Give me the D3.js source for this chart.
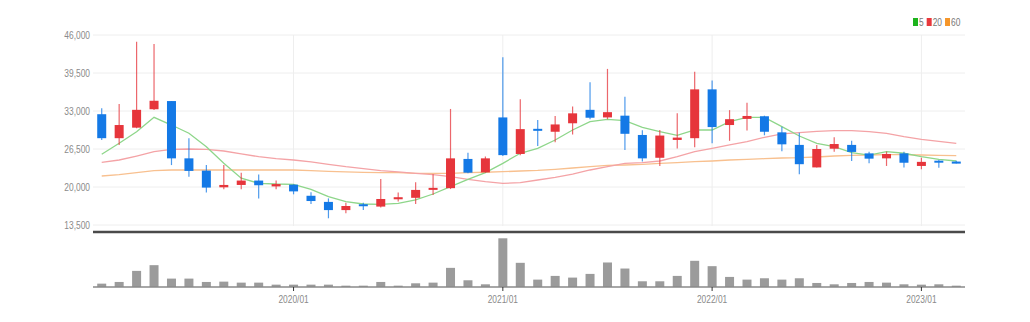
<!DOCTYPE html>
<html><head><meta charset="utf-8">
<script src="https://cdn.jsdelivr.net/npm/d3@7/dist/d3.min.js"></script>
<style>
html,body{margin:0;padding:0;background:#fff;}
svg text{font-family:"Liberation Sans",Arial,sans-serif;}
</style></head>
<body><svg id="c" width="1030" height="322"></svg>
<script>
const months = ["2019/02","2019/03","2019/04","2019/05","2019/06","2019/07","2019/08","2019/09","2019/10","2019/11","2019/12",
"2020/01","2020/02","2020/03","2020/04","2020/05","2020/06","2020/07","2020/08","2020/09","2020/10","2020/11","2020/12",
"2021/01","2021/02","2021/03","2021/04","2021/05","2021/06","2021/07","2021/08","2021/09","2021/10","2021/11","2021/12",
"2022/01","2022/02","2022/03","2022/04","2022/05","2022/06","2022/07","2022/08","2022/09","2022/10","2022/11","2022/12",
"2023/01","2023/02","2023/03"];
const opens  = [32450,28350,30150,33300,34700,24900,22800,19950,20350,21100,20100,20400,18500,17450,16050,17050,16650,17900,18150,19550,19800,24800,22500,31900,25650,29950,29450,30900,33200,31900,32200,28900,25000,28050,28350,36700,30600,31650,32100,29350,27200,23350,26550,27200,25750,24900,25750,23600,24500,24350];
const highs  = [33450,34200,44850,44450,34700,28350,23750,23750,22450,22150,21100,20450,19100,18050,17300,17300,21350,19050,20800,22200,33350,25850,25200,42200,35000,31450,32150,33750,37900,40200,35450,29700,29750,32600,39700,38200,33150,34400,32200,30300,29300,27200,28500,27900,26050,26050,26050,25000,24600,24500];
const lows   = [28050,27200,30050,33150,23750,21750,19050,19600,19600,18050,19600,18750,17100,14650,15500,16050,16500,17500,17100,18650,19650,22350,22450,25300,25450,27000,27650,29000,31600,31600,26350,24350,23600,26600,26800,27500,27900,29650,28850,26100,22200,23350,26050,24450,24050,23600,23350,23050,23300,24000];
const closes = [28350,30600,33200,34750,24900,22750,19900,20350,21100,20300,20500,19250,17600,16050,16750,16800,17950,18250,19500,19850,24900,22450,24900,25450,29900,29650,30700,32600,31850,32800,29100,24900,28800,28450,36700,30250,31600,32150,29450,27300,23900,26500,27350,26000,24850,25650,24150,24300,24250,24000];
const ma5  = [25600,27480,29460,31920,30600,29190,26890,24050,21500,20630,20510,20460,19610,18340,17490,17090,17040,17210,17780,18800,20050,21320,22450,24050,25770,26620,28040,29750,31170,31580,31340,30210,29460,28840,29750,29750,31170,31920,31920,30320,28720,27480,26890,25870,25470,26040,25770,25190,24740,24450];
const ma20 = [24230,24620,25300,26040,26450,26500,26450,26160,25650,25190,24840,24620,24280,23880,23470,23130,22790,22570,22340,22110,21760,21320,20910,20630,20740,21200,21660,22220,22910,23470,24050,24160,24450,25190,26040,26620,27190,27750,28500,29070,29290,29530,29630,29630,29460,29190,28600,28160,27820,27480];
const ma60 = [21880,22110,22450,22790,22910,22910,22910,22910,22910,22910,22910,22910,22790,22680,22570,22500,22450,22450,22340,22340,22340,22450,22520,22620,22740,22850,23030,23250,23470,23700,23760,23880,24050,24160,24330,24450,24620,24740,24840,24960,25010,25130,25300,25420,25470,25530,25530,25470,25420,25360];
const volumes = [333,500,1600,2167,833,833,500,533,433,433,233,233,233,233,133,133,500,133,367,433,1900,667,267,4833,2400,733,1100,933,1300,2433,1833,567,567,1100,2600,2067,1000,733,867,733,867,400,267,400,500,433,267,233,267,133];
const priceTicks = [13500,20000,26500,33000,39500,46000];
const dateTicks = ["2020/01","2021/01","2022/01","2023/01"];
const legendItems = [{label:"5",color:"#1db31d"},{label:"20",color:"#e8383d"},{label:"60",color:"#f5962a"}];

const UP = "#e6353b", DOWN = "#1479e6";
const NARROW = 0.8;
const svg = d3.select("#c");
const x = d3.scaleBand().domain(months).range([93,965]);
const y = d3.scaleLinear().domain([13500,46000]).range([225,35]);
const yv = d3.scaleLinear().domain([0,4833]).range([287,238.3]);
const cx = m => x(m) + x.bandwidth()/2;
const bw = 9;

// grid
svg.append("g").selectAll("line").data(priceTicks).join("line")
  .attr("x1",93).attr("x2",965).attr("y1",d=>y(d)).attr("y2",d=>y(d))
  .attr("stroke","#eeeeee").attr("stroke-width",1);
svg.append("g").selectAll("line").data(dateTicks).join("line")
  .attr("x1",d=>cx(d)).attr("x2",d=>cx(d)).attr("y1",35).attr("y2",226)
  .attr("stroke","#eeeeee").attr("stroke-width",1);

// y axis labels
const yAxis = d3.axisLeft(y).tickValues(priceTicks).tickSize(0).tickPadding(0).tickFormat(d3.format(","));
const ga = svg.append("g").attr("transform","translate(90,0)").call(yAxis);
ga.select(".domain").remove();
ga.selectAll("text").attr("fill","#8a8a8a").style("font-size","10.5px")
  .style("font-family",'"Liberation Sans",Arial,sans-serif').attr("transform",`scale(${NARROW},1)`);

// MA lines
const lineGen = arr => d3.line().x((d,i)=>cx(months[i])).y(d=>y(d))(arr);
svg.append("path").attr("d",lineGen(ma60)).attr("fill","none").attr("stroke","#f8c08f").attr("stroke-width",1.3);
svg.append("path").attr("d",lineGen(ma20)).attr("fill","none").attr("stroke","#f4a3a6").attr("stroke-width",1.3);
svg.append("path").attr("d",lineGen(ma5)).attr("fill","none").attr("stroke","#8ed68a").attr("stroke-width",1.3);

// candles
const cg = svg.append("g");
months.forEach((m,i)=>{
  const up = closes[i] >= opens[i];
  const col = up ? UP : DOWN;
  cg.append("line").attr("x1",cx(m)).attr("x2",cx(m)).attr("y1",y(highs[i])).attr("y2",y(lows[i]))
    .attr("stroke",col).attr("stroke-width",1.2).attr("opacity",0.75);
  const top = y(Math.max(opens[i],closes[i])), bot = y(Math.min(opens[i],closes[i]));
  cg.append("rect").attr("x",cx(m)-bw/2).attr("width",bw).attr("y",top).attr("height",Math.max(2,bot-top))
    .attr("fill",col);
});

// panel separator
svg.append("line").attr("x1",93).attr("x2",965).attr("y1",232).attr("y2",232).attr("stroke","#4a4a4a").attr("stroke-width",2.5);

// volume
svg.append("g").selectAll("rect").data(volumes).join("rect")
  .attr("x",(d,i)=>cx(months[i])-bw/2).attr("width",bw)
  .attr("y",d=>yv(d)).attr("height",d=>287-yv(d)).attr("fill","#9b9b9b");
svg.append("line").attr("x1",93).attr("x2",965).attr("y1",287).attr("y2",287).attr("stroke","#8a8a8a").attr("stroke-width",1.5);

const xAxis = d3.axisBottom(x).tickValues(dateTicks).tickSize(4).tickPadding(5);
const gx = svg.append("g").attr("transform","translate(0,287)").call(xAxis);
gx.select(".domain").remove();
gx.selectAll(".tick line").attr("stroke","#333");
gx.selectAll("text").attr("fill","#8a8a8a").style("font-size","10.5px")
  .style("font-family",'"Liberation Sans",Arial,sans-serif').attr("transform",`scale(${NARROW},1)`);

// legend
const lg = svg.append("g");
let lx = 913;
legendItems.forEach(it=>{
  lg.append("rect").attr("x",lx).attr("y",18).attr("width",5).attr("height",8).attr("fill",it.color);
  const t = lg.append("text").attr("x",0).attr("y",26).attr("fill","#777").style("font-size","10.5px")
    .attr("transform",`translate(${lx+6},0) scale(${NARROW},1)`).text(it.label);
  lx += 6 + t.node().getComputedTextLength()*NARROW + 3;
});
</script></body></html>
